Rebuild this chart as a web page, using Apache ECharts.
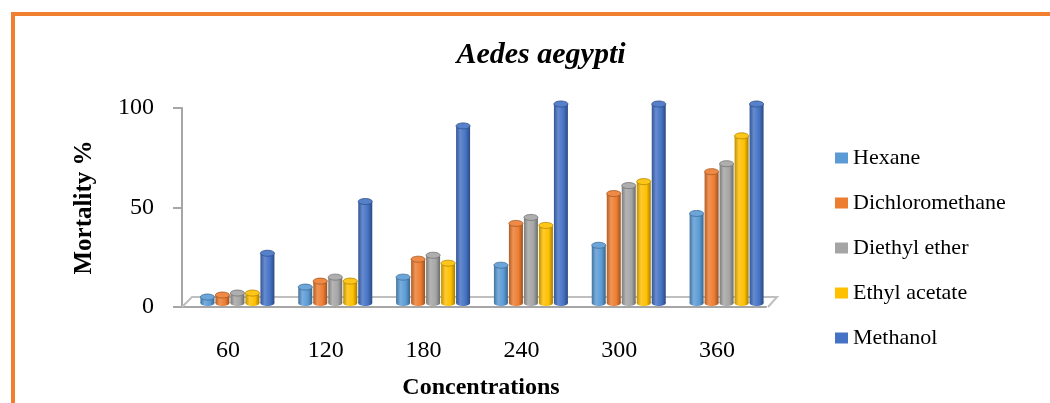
<!DOCTYPE html>
<html><head><meta charset="utf-8">
<script src="https://cdn.jsdelivr.net/npm/echarts@6/dist/echarts.min.js"></script>
<style>
html,body{margin:0;padding:0;background:#fff;}
#c{width:1050px;height:403px;position:relative;}
#frame{position:absolute;left:11px;top:12px;width:1100px;height:500px;border:4px solid #F0802F;pointer-events:none;box-sizing:border-box;}
</style></head>
<body>
<div id="c"></div>
<div id="frame"></div>
<script>
var categories = ['60','120','180','240','300','360'];
var seriesNames = ['Hexane','Dichloromethane','Diethyl ether','Ethyl acetate','Methanol'];
var hexane = [3, 8, 13, 19, 29, 45];
var dichloromethane = [4, 11, 22, 40, 55, 66];
var diethylEther = [5, 13, 24, 43, 59, 70];
var ethylAcetate = [5, 11, 20, 39, 61, 84];
var methanol = [25, 51, 89, 100, 100, 100];
var yTicks = [0, 50, 100];
var colors = ['#5B9BD5','#ED7D31','#A5A5A5','#FFC000','#4472C4'];

var allValues = [hexane, dichloromethane, diethylEther, ethylAcetate, methanol];
var BAR_W = 15, DX = 9.5, DY = -4, CAP = 3;

function shade(hex, f){
  var n = parseInt(hex.slice(1),16);
  var r=(n>>16)&255,g=(n>>8)&255,b=n&255;
  function m(c){ return Math.max(0,Math.min(255,Math.round(f>0 ? c+(255-c)*f : c*(1+f)))); }
  return 'rgb('+m(r)+','+m(g)+','+m(b)+')';
}

function cylRender(si){
  var col = colors[si];
  return function(params, api){
    var ci = api.value(0), v = api.value(1);
    var p0 = api.coord([ci, 0]), p1 = api.coord([ci, v]);
    var cx = p0[0] + DX + (si - 2) * BAR_W;
    var bw = BAR_W - 1;
    var x = cx - bw/2;
    var yb = p0[1] + DY, yt = p1[1] + DY;
    var grad = new echarts.graphic.LinearGradient(0,0,1,0,[
      {offset:0, color: shade(col,-0.25)},
      {offset:0.3, color: shade(col,0.18)},
      {offset:0.7, color: col},
      {offset:1, color: shade(col,-0.35)}
    ]);
    return {type:'group', children:[
      {type:'ellipse', shape:{cx:cx, cy:yb, rx:bw/2, ry:CAP}, style:{fill:grad}},
      {type:'rect', shape:{x:x, y:yt, width:bw, height:Math.max(0,yb-yt)}, style:{fill:grad}},
      {type:'ellipse', shape:{cx:cx, cy:yt, rx:bw/2, ry:CAP}, style:{fill:shade(col,0.1), stroke:shade(col,-0.3), lineWidth:0.8}}
    ]};
  };
}

function floorRender(params, api){
  var cs = params.coordSys;
  var b = cs.y + cs.height;
  var l = cs.x, r = cs.x + cs.width;
  return {type:'polyline', shape:{points:[[l+3,b],[l+13,b-10],[r+11,b-10],[r+2,b]]},
    style:{stroke:'#BFBFBF', lineWidth:2, fill:null}};
}

var series = [{
  type:'custom', name:'floor', silent:true, renderItem: floorRender,
  data:[[0,0]], encode:{x:0,y:1}, clip:false, z:1
}];
for (var i=0;i<seriesNames.length;i++){
  series.push({
    type:'custom', name: seriesNames[i], renderItem: cylRender(i),
    itemStyle:{color: colors[i]},
    encode:{x:0,y:1}, clip:false, z:2,
    data: allValues[i].map(function(v,k){ return [k, v]; })
  });
}

var chart = echarts.init(document.getElementById('c'));
chart.setOption({
  animation:false,
  backgroundColor:'#fff',
  title:{text:'Aedes aegypti', left:536, top:35, textAlign:'center',
    textStyle:{fontFamily:'Liberation Serif', fontStyle:'italic', fontWeight:'bold', fontSize:30, color:'#000'}},
  legend:{orient:'vertical', left:830, top:141, icon:'rect', itemWidth:13, itemHeight:11, itemGap:21,
    data: seriesNames,
    textStyle:{fontFamily:'Liberation Serif', fontSize:22, lineHeight:24, color:'#000'}},
  grid:{left:179, top:108, width:587, height:199},
  xAxis:{type:'category', data:categories,
    axisLine:{show:true, lineStyle:{color:'#A6A6A6', width:2}},
    axisTick:{show:false},
    axisLabel:{margin:32, fontFamily:'Liberation Serif', fontSize:24, color:'#000'},
    name:'Concentrations', nameLocation:'middle', nameGap:69,
    nameTextStyle:{fontFamily:'Liberation Serif', fontWeight:'bold', fontSize:24, color:'#000', padding:[0,0,0,17]}
  },
  yAxis:{type:'value', min:yTicks[0], max:yTicks[yTicks.length-1], interval:50, offset:-3,
    axisLine:{show:true, lineStyle:{color:'#A6A6A6', width:2}},
    axisTick:{show:true, length:9, lineStyle:{color:'#A6A6A6', width:2}},
    splitLine:{show:false},
    axisLabel:{margin:28, fontFamily:'Liberation Serif', fontSize:24, color:'#000'},
    name:'Mortality %', nameLocation:'middle', nameGap:85,
    nameTextStyle:{fontFamily:'Liberation Serif', fontWeight:'bold', fontSize:25, color:'#000'}
  },
  series: series
});
</script>
</body></html>
